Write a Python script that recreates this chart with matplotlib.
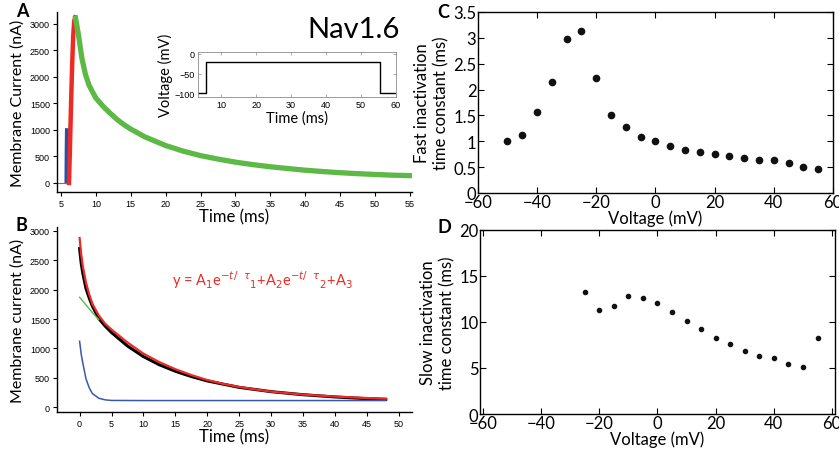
import matplotlib
matplotlib.use("Agg")
import matplotlib.pyplot as plt
import numpy as np

# ---- panel A data (current trace pieces) ----
a_base_t = [4.5, 5.0, 5.5, 5.8]
a_base_i = [0, 0, 0, 0]
a_rise_t = [5.85, 5.88, 5.92, 5.95]
a_rise_i = [0, 600, 1000, 1030]
a_red_t = [6.15, 6.3, 6.45, 6.6, 6.75, 6.9, 7.05]
a_red_i = [0, 700, 1500, 2200, 2750, 3050, 3120]
a_green_t = [7.1, 7.5, 8.0, 8.5, 9.0, 9.5, 10, 11, 12, 13, 14, 15, 17, 20, 22.5,
             25, 27.5, 30, 32.5, 35, 37.5, 40, 42.5, 45, 47.5, 50, 52.5, 55]
a_green_i = [3100, 2800, 2350, 2050, 1850, 1720, 1600, 1450, 1320, 1200, 1100, 1015,
             870, 705, 600, 515, 450, 392, 345, 305, 272, 240, 215, 193, 175, 160, 147, 138]

# inset voltage protocol
v_t = [3.3, 5.7, 5.7, 55.5, 55.5, 60]
v_mv = [-100, -100, -20, -20, -100, -100]

# ---- panel B data ----
b_black_t = [0, 0.25, 0.5, 1, 1.5, 2, 3, 4, 5, 7.5, 10, 12.5, 15, 17.5, 20, 25, 30, 35, 40, 44, 48]
b_black_i = [2700, 2450, 2280, 2020, 1860, 1720, 1510, 1380, 1270, 1040, 860, 720, 610, 520, 445,
             335, 262, 210, 172, 148, 130]
b_red_t = [0, 0.25, 0.5, 1, 1.5, 2, 3, 4, 5, 7.5, 10, 12.5, 15, 17.5, 20, 22.5, 25, 27.5, 30,
           35, 40, 45, 48]
b_red_i = [2880, 2600, 2400, 2120, 1920, 1760, 1560, 1420, 1320, 1100, 910, 765, 645, 545, 460,
           395, 342, 300, 262, 212, 178, 153, 142]
b_green_t = [0, 1, 2, 3]
b_green_i = [1870, 1740, 1610, 1490]
b_blue_t = [0, 0.25, 0.5, 1, 1.5, 2, 3, 4, 5, 10, 48]
b_blue_i = [1120, 900, 750, 480, 330, 230, 150, 122, 112, 110, 110]

# ---- panel C / D data ----
c_volt = [-50, -45, -40, -35, -30, -25, -20, -15, -10, -5, 0, 5, 10, 15, 20, 25, 30, 35, 40, 45, 50, 55]
c_tau = [1.0, 1.13, 1.57, 2.15, 2.98, 3.14, 2.22, 1.51, 1.28, 1.08, 1.0, 0.90, 0.83, 0.80,
         0.75, 0.72, 0.68, 0.64, 0.64, 0.58, 0.51, 0.47]
d_volt = [-25, -20, -15, -10, -5, 0, 5, 10, 15, 20, 25, 30, 35, 40, 45, 50, 55]
d_tau = [13.27, 11.24, 11.67, 12.76, 12.58, 12.07, 11.05, 10.1, 9.27, 8.29, 7.56, 6.87,
         6.25, 6.04, 5.38, 5.13, 8.25]

plt.rcParams['font.family'] = ['Lato', 'DejaVu Sans']
small = ['Liberation Sans', 'DejaVu Sans']

fig = plt.figure(figsize=(8.39, 4.56), dpi=100)


def open_axes(ax):
    for s in ['top', 'right']:
        ax.spines[s].set_visible(False)
    for s in ['left', 'bottom']:
        ax.spines[s].set_linewidth(1.0)
    ax.tick_params(direction='out', length=3, width=0.8, labelsize=6.5, pad=2)
    for lab in ax.get_xticklabels() + ax.get_yticklabels():
        lab.set_family(small)


def box_axes(ax):
    for s in ax.spines.values():
        s.set_linewidth(1.0)
    ax.tick_params(direction='in', length=4, width=0.8, labelsize=12, pad=1,
                   top=True, right=True)


# panel A
axA = fig.add_axes([0.0679, 0.5768, 0.4231, 0.3947])
axA.plot(a_base_t, a_base_i, color='0.45', lw=0.8)
axA.plot(a_rise_t, a_rise_i, color='#2c4ea3', lw=3.5, solid_capstyle='butt')
axA.plot(a_red_t, a_red_i, color='#ee2a24', lw=3.2)
axA.plot(a_green_t, a_green_i, color='#5cb946', lw=3.8)
axA.set_xlim(4.43, 55.3)
axA.set_ylim(-170, 3220)
axA.set_xticks(np.arange(5, 56, 5))
axA.set_yticks(np.arange(0, 3001, 500))
open_axes(axA)
axA.set_xlabel('Time (ms)', fontsize=12, labelpad=0)
axA.set_ylabel('Membrane Current (nA)', fontsize=11.5, labelpad=4)
fig.text(0.019, 0.975, 'A', fontsize=13, fontweight='bold', va='center')
fig.text(0.421, 0.935, 'Nav1.6', fontsize=21, ha='center', va='center')

# inset
axI = fig.add_axes([0.2356, 0.7851, 0.2364, 0.0987])
axI.plot(v_t, v_mv, color='black', lw=1.0)
axI.set_xlim(3.3, 60)
axI.set_ylim(-110, 5)
axI.set_xticks([10, 20, 30, 40, 50, 60])
axI.set_yticks([0, -50, -100])
for s in axI.spines.values():
    s.set_linewidth(0.6)
    s.set_color('0.55')
axI.tick_params(direction='in', length=2, width=0.5, labelsize=6.5, pad=2,
                top=True, right=True, colors='0.55', labelcolor='black')
for lab in axI.get_xticklabels() + axI.get_yticklabels():
    lab.set_family(small)
axI.set_xlabel('Time (ms)', fontsize=10.5, labelpad=1)
axI.set_ylabel('Voltage (mV)', fontsize=10.5, labelpad=1)

# panel B
axB = fig.add_axes([0.0679, 0.0943, 0.4231, 0.4057])
axB.plot(b_black_t, b_black_i, color='black', lw=2.2)
axB.plot(b_blue_t, b_blue_i, color='#3a57a8', lw=1.1)
axB.plot(b_green_t, b_green_i, color='#5cb946', lw=1.0)
axB.plot(b_red_t, b_red_i, color='#ee2a24', lw=1.6)
axB.set_xlim(-3.55, 52.1)
axB.set_ylim(-85, 3068)
axB.set_xticks(np.arange(0, 51, 5))
axB.set_yticks(np.arange(0, 3001, 500))
open_axes(axB)
axB.set_xlabel('Time (ms)', fontsize=12, labelpad=0)
axB.set_ylabel('Membrane current (nA)', fontsize=11.5, labelpad=4)
axB.text(0.325, 0.72, r'y = A$_1$e$^{-t/\ \ \tau}$$_1$+A$_2$e$^{-t/\ \ \tau}$$_2$+A$_3$',
         transform=axB.transAxes, color='#ee2a24', fontsize=10.5, va='center')
fig.text(0.019, 0.505, 'B', fontsize=13, fontweight='bold', va='center')

# panel C
axC = fig.add_axes([0.5694, 0.5746, 0.4235, 0.3969])
axC.plot(c_volt, c_tau, 'o', color='#111111', ms=4.5)
axC.set_xlim(-60, 60)
axC.set_ylim(0, 3.5)
axC.set_xticks(np.arange(-60, 61, 20))
axC.set_yticks([0, 0.5, 1, 1.5, 2, 2.5, 3, 3.5])
axC.set_yticklabels(['0', '0.5', '1', '1.5', '2', '2.5', '3', '3.5'])
axC.set_xticklabels(['\u221260', '\u221240', '\u221220', '0', '20', '40', '60'])
box_axes(axC)
axC.set_xlabel('Voltage (mV)', fontsize=12, labelpad=-1)
axC.set_ylabel('Fast inactivation\ntime constant (ms)', fontsize=12, labelpad=3)
fig.text(0.521, 0.972, 'C', fontsize=13, fontweight='bold', va='center')

# panel D
axD = fig.add_axes([0.5721, 0.0899, 0.4231, 0.4042])
axD.plot(d_volt, d_tau, 'o', color='#111111', ms=3)
axD.set_xlim(-61, 61)
axD.set_ylim(0, 20)
axD.set_xticks(np.arange(-60, 61, 20))
axD.set_yticks([0, 5, 10, 15, 20])
axD.set_xticklabels(['\u221260', '\u221240', '\u221220', '0', '20', '40', '60'])
box_axes(axD)
axD.set_xlabel('Voltage (mV)', fontsize=12, labelpad=-1)
axD.set_ylabel('Slow inactivation\ntime constant (ms)', fontsize=12, labelpad=3)
fig.text(0.521, 0.502, 'D', fontsize=13, fontweight='bold', va='center')

fig.savefig('out.png', dpi=100)
